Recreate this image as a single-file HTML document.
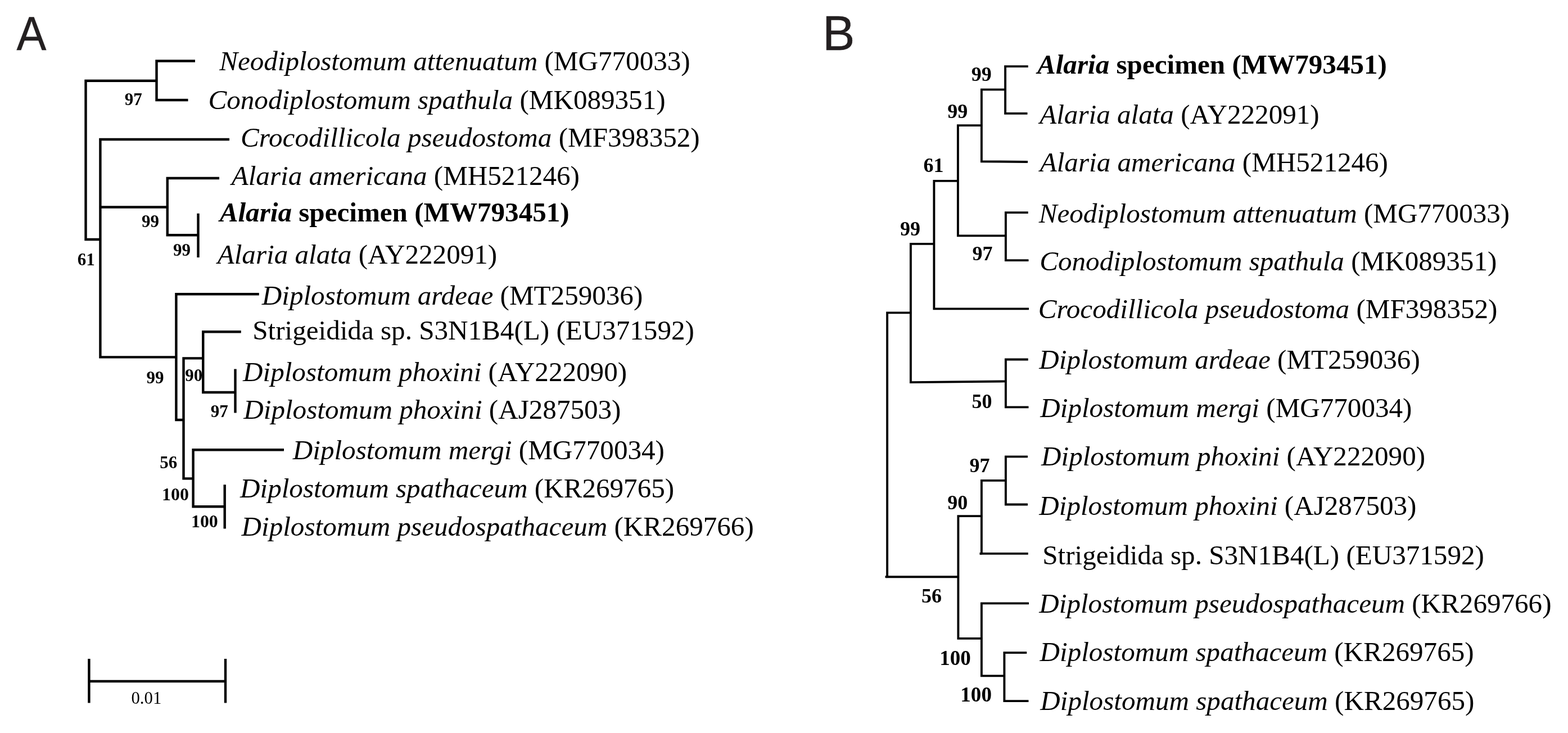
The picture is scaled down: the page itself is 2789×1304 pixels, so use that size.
<!DOCTYPE html>
<html lang="en"><head><meta charset="utf-8"><title>Phylogenetic trees</title>
<style>
html,body{margin:0;padding:0;background:#fff;}
body{width:2789px;height:1304px;overflow:hidden;}
svg{display:block;}
.ln path{stroke:#000;fill:none;stroke-linejoin:miter;stroke-linecap:butt;}
text{fill:#000;font-family:"Liberation Serif","Times New Roman",serif;}
.t{font-size:49.12px;}
.tb{font-size:49.12px;font-weight:bold;}
.i{font-style:italic;}
.na{font-size:31px;font-weight:bold;}
.nb{font-size:36px;font-weight:bold;}
.sc{font-size:30.8px;}
.pl{font-family:"Liberation Sans",Arial,sans-serif;font-size:86.6px;fill:#231f20;stroke:#231f20;stroke-width:0.5px;}
</style></head><body>
<svg width="2789" height="1304" viewBox="0 0 2789 1304">
<rect width="2789" height="1304" fill="#fff"/>
<g class="ln">
<path d="M278.5,143.75 L152.5,143.75 L152.5,426 L178.4,426" stroke-width="4.4"/>
<path d="M347,108.5 L278.5,108.5 L278.5,178 L334.5,178" stroke-width="4.4"/>
<path d="M408,248 L178.4,248 L178.4,635.4 L313.4,635.4" stroke-width="4.4"/>
<path d="M178.4,368.5 L297.75,368.5" stroke-width="4.4"/>
<path d="M390,317 L297.75,317 L297.75,418.25 L352.5,418.25" stroke-width="4.4"/>
<path d="M352.5,379.75 L352.5,458" stroke-width="4.4"/>
<path d="M460.75,523.25 L313.4,523.25 L313.4,747 L326.5,747" stroke-width="4.4"/>
<path d="M361.25,637.4 L326.5,637.4 L326.5,851.4 L343.6,851.4" stroke-width="4.4"/>
<path d="M428.75,590.25 L361.25,590.25 L361.25,698 L418.5,698" stroke-width="4.4"/>
<path d="M418.5,656.5 L418.5,734.5" stroke-width="4.4"/>
<path d="M505,800.2 L343.6,800.2 L343.6,901.2 L399.7,901.2" stroke-width="4.4"/>
<path d="M399.7,862.2 L399.7,940.5" stroke-width="4.4"/>
<path d="M158.4,1172 L158.4,1250.5" stroke-width="4.4"/>
<path d="M401,1172 L401,1250.5" stroke-width="4.4"/>
<path d="M158.4,1212 L401,1212" stroke-width="4.4"/>
</g>
<g class="ln">
<path d="M1828.75,118.1 L1788.1,118.1 L1788.1,201.9 L1827.5,201.9" stroke-width="3.9"/>
<path d="M1788.1,159.4 L1745.9,159.4 L1745.9,287.2 L1828,288" stroke-width="3.9"/>
<path d="M1745.9,223.1 L1703.9,223.1 L1703.9,419.4 L1788.9,419.4" stroke-width="3.9"/>
<path d="M1828.75,378.1 L1788.9,378.1 L1788.9,463.1 L1829.5,463.1" stroke-width="3.9"/>
<path d="M1703.9,321.9 L1661.4,321.9 L1661.4,549.4 L1830,549.4" stroke-width="3.9"/>
<path d="M1661.4,433.9 L1619.9,433.9 L1619.9,680.1 L1788.9,678.4" stroke-width="3.9"/>
<path d="M1828.75,639.5 L1788.9,639.5 L1788.9,724.4 L1829.5,724.4" stroke-width="3.9"/>
<path d="M1619.9,556.4 L1578.1,556.4 L1578.1,1026.2 L1704.4,1026.2" stroke-width="3.9"/>
<path d="M1574.5,1026.2 L1578.1,1026.2" stroke-width="3.9"/>
<path d="M1828,812.4 L1788.9,812.4 L1788.9,897.5 L1828,897.5" stroke-width="3.9"/>
<path d="M1788.9,854.9 L1745.9,854.9 L1745.9,984.9 L1828.75,984.9" stroke-width="3.9"/>
<path d="M1742.5,984.9 L1745.9,984.9" stroke-width="3.9"/>
<path d="M1745.9,918.1 L1704.4,918.1 L1704.4,1135.9 L1745.9,1135.9" stroke-width="3.9"/>
<path d="M1830,1073.4 L1745.9,1073.4 L1745.9,1202.4 L1786.4,1202.4" stroke-width="3.9"/>
<path d="M1826.25,1161.1 L1786.4,1161.1 L1786.4,1247.1 L1829.5,1247.1" stroke-width="3.9"/>
</g>
<text class="pl" style="font-size:86px" transform="translate(29.6 89.2) scale(0.922 1)">A</text>
<text class="pl" style="font-size:86.2px" x="1462.93" y="88.95">B</text>
<text class="t" x="390.13" y="125"><tspan class="i">Neodiplostomum attenuatum</tspan> (MG770033)</text>
<text class="t" x="370.50" y="193.8"><tspan class="i">Conodiplostomum spathula</tspan> (MK089351)</text>
<text class="t" x="428.00" y="260.75"><tspan class="i">Crocodillicola pseudostoma</tspan> (MF398352)</text>
<text class="t" x="411.70" y="329"><tspan class="i">Alaria americana</tspan> (MH521246)</text>
<text class="tb" x="390.70" y="394"><tspan class="i">Alaria</tspan> specimen (MW793451)</text>
<text class="t" x="386.70" y="469"><tspan class="i">Alaria alata</tspan> (AY222091)</text>
<text class="t" x="465.82" y="542.25"><tspan class="i">Diplostomum ardeae</tspan> (MT259036)</text>
<text class="t" x="449.21" y="604">Strigeidida sp. S3N1B4(L) (EU371592)</text>
<text class="t" x="432.07" y="677.75"><tspan class="i">Diplostomum phoxini</tspan> (AY222090)</text>
<text class="t" x="433.32" y="744.5"><tspan class="i">Diplostomum phoxini</tspan> (AJ287503)</text>
<text class="t" x="520.82" y="817"><tspan class="i">Diplostomum mergi</tspan> (MG770034)</text>
<text class="t" x="427.07" y="884.5"><tspan class="i">Diplostomum spathaceum</tspan> (KR269765)</text>
<text class="t" x="429.57" y="952.5"><tspan class="i">Diplostomum pseudospathaceum</tspan> (KR269766)</text>
<text class="na" x="221.75" y="186.6">97</text>
<text class="na" x="251.90" y="404.2">99</text>
<text class="na" x="307.90" y="455.2">99</text>
<text class="na" x="137.69" y="471.5">61</text>
<text class="na" x="260.40" y="682.2">99</text>
<text class="na" x="329.15" y="678.2">90</text>
<text class="na" x="374.75" y="742">97</text>
<text class="na" x="284.36" y="833">56</text>
<text class="na" style="font-size:31.93px" x="288.04" y="890">100</text>
<text class="na" style="font-size:31.93px" x="339.94" y="937.5">100</text>
<text class="sc" x="233.43" y="1251.6">0.01</text>
<text class="tb" x="1844.95" y="131.25"><tspan class="i">Alaria</tspan> specimen (MW793451)</text>
<text class="t" x="1849.20" y="220"><tspan class="i">Alaria alata</tspan> (AY222091)</text>
<text class="t" x="1849.70" y="305"><tspan class="i">Alaria americana</tspan> (MH521246)</text>
<text class="t" x="1847.63" y="395.5"><tspan class="i">Neodiplostomum attenuatum</tspan> (MG770033)</text>
<text class="t" x="1849.25" y="480.75"><tspan class="i">Conodiplostomum spathula</tspan> (MK089351)</text>
<text class="t" x="1846.75" y="566.25"><tspan class="i">Crocodillicola pseudostoma</tspan> (MF398352)</text>
<text class="t" x="1848.32" y="655.5"><tspan class="i">Diplostomum ardeae</tspan> (MT259036)</text>
<text class="t" x="1850.32" y="742"><tspan class="i">Diplostomum mergi</tspan> (MG770034)</text>
<text class="t" x="1852.07" y="827.5"><tspan class="i">Diplostomum phoxini</tspan> (AY222090)</text>
<text class="t" x="1848.32" y="915.5"><tspan class="i">Diplostomum phoxini</tspan> (AJ287503)</text>
<text class="t" x="1854.21" y="1004.25">Strigeidida sp. S3N1B4(L) (EU371592)</text>
<text class="t" x="1848.32" y="1089.5"><tspan class="i">Diplostomum pseudospathaceum</tspan> (KR269766)</text>
<text class="t" x="1849.57" y="1176.25"><tspan class="i">Diplostomum spathaceum</tspan> (KR269765)</text>
<text class="t" x="1850.32" y="1263"><tspan class="i">Diplostomum spathaceum</tspan> (KR269765)</text>
<text class="nb" x="1727.77" y="144">99</text>
<text class="nb" x="1685.27" y="210">99</text>
<text class="nb" x="1642.52" y="306">61</text>
<text class="nb" x="1601.02" y="419">99</text>
<text class="nb" x="1729.52" y="462.5">97</text>
<text class="nb" x="1728.56" y="725.75">50</text>
<text class="nb" x="1724.52" y="839.5">97</text>
<text class="nb" x="1685.27" y="906">90</text>
<text class="nb" x="1639.06" y="1072">56</text>
<text class="nb" style="font-size:37.08px" x="1671.23" y="1182.8">100</text>
<text class="nb" style="font-size:37.08px" x="1708.33" y="1247.6">100</text>
</svg>
</body></html>
